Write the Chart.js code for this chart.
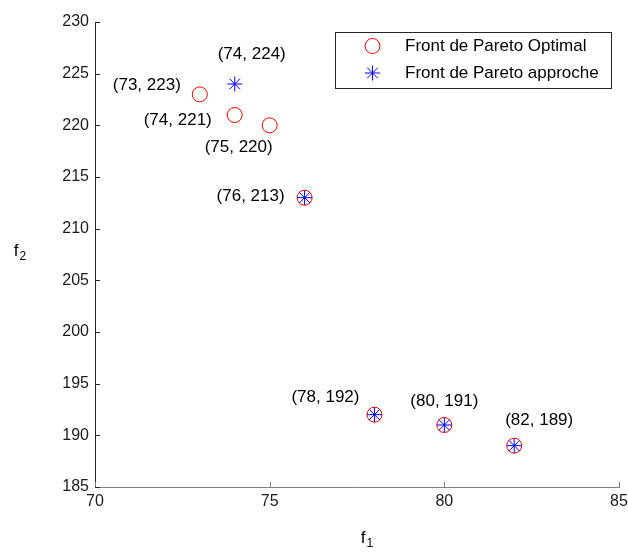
<!DOCTYPE html>
<html>
<head>
<meta charset="utf-8">
<script src="https://cdn.jsdelivr.net/npm/chart.js@4.4.1/dist/chart.umd.min.js"></script>
<style>
  html, body { margin: 0; padding: 0; background: #fff; }
  #wrap { width: 628px; height: 554px; }
</style>
</head>
<body>
<div id="wrap"><canvas id="paretoChart" width="628" height="554"></canvas></div>
<script>
// ---------------- data ----------------
const seriesNames = ['Front de Pareto Optimal', 'Front de Pareto approche'];

const f1Optimal = [73, 74, 75, 76, 78, 80, 82];
const f2Optimal = [223, 221, 220, 213, 192, 191, 189];

const f1Approche = [74, 76, 78, 80, 82];
const f2Approche = [224, 213, 192, 191, 189];

const xTicks = [70, 75, 80, 85];
const yTicks = [185, 190, 195, 200, 205, 210, 215, 220, 225, 230];

// points that carry a "(f1, f2)" text
const labelF1 = [74, 73, 74, 75, 76, 78, 80, 82];
const labelF2 = [224, 223, 221, 220, 213, 192, 191, 189];
// pixel shift of each text centre from its point
const labelShift = [[17, -30], [-53, -9], [-57, 5], [-31, 22], [-54, -1], [-49, -17], [0, -24], [25, -25]];

// ---------------- helpers ----------------
const FONT = '"Liberation Sans", Arial, Helvetica, sans-serif';
const RED = '#ff0000';
const BLUE = '#0000ff';

function toPoints(xs, ys) {
	return xs.map((x, i) => ({ x: x, y: ys[i] }));
}

function drawSubLabel(ctx, main, sub, cx, baseY) {
	ctx.font = '17px ' + FONT;
	const w1 = ctx.measureText(main).width;
	ctx.font = '12px ' + FONT;
	const w2 = ctx.measureText(sub).width;
	const left = cx - (w1 + w2 + 1) / 2;
	ctx.textAlign = 'left';
	ctx.textBaseline = 'alphabetic';
	ctx.font = '17px ' + FONT;
	ctx.fillText(main, left, baseY);
	ctx.font = '12px ' + FONT;
	ctx.fillText(sub, left + w1 + 1, baseY + 4);
}

function legendMarker(ctx, ds, x, y) {
	ctx.save();
	ctx.strokeStyle = ds.borderColor;
	ctx.fillStyle = 'rgba(0,0,0,0)';
	ctx.lineWidth = 1;
	Chart.helpers.drawPoint(ctx, { pointStyle: ds.pointStyle, radius: ds.pointRadius, borderWidth: 1 }, x, y);
	ctx.restore();
}

// inward ticks, axis titles, point texts and legend box
const matlabLook = {
	id: 'matlabLook',
	afterDraw(chart) {
		const ctx = chart.ctx;
		const xs = chart.scales.x;
		const ys = chart.scales.y;
		const area = chart.chartArea;
		ctx.save();

		// ticks inside the axes
		ctx.lineWidth = 1;
		ctx.strokeStyle = '#262626';
		yTicks.forEach(v => {
			const py = Math.round(ys.getPixelForValue(v)) + 0.5;
			ctx.beginPath();
			ctx.moveTo(area.left, py);
			ctx.lineTo(area.left + 5, py);
			ctx.stroke();
		});
		ctx.strokeStyle = '#808080';
		xTicks.forEach(v => {
			const px = Math.round(xs.getPixelForValue(v)) + 0.5;
			ctx.beginPath();
			ctx.moveTo(px, area.bottom);
			ctx.lineTo(px, area.bottom - 5);
			ctx.stroke();
		});

		// axis titles
		ctx.fillStyle = '#000';
		drawSubLabel(ctx, 'f', '1', 367, 543);
		drawSubLabel(ctx, 'f', '2', 20, 256);

		// point texts
		ctx.font = '17px ' + FONT;
		ctx.textAlign = 'center';
		ctx.textBaseline = 'middle';
		labelF1.forEach((v, i) => {
			const px = xs.getPixelForValue(v) + labelShift[i][0];
			const py = ys.getPixelForValue(labelF2[i]) + labelShift[i][1];
			ctx.fillText('(' + v + ', ' + labelF2[i] + ')', px, py);
		});

		// legend
		ctx.fillStyle = '#fff';
		ctx.fillRect(335.5, 32.5, 276, 56);
		ctx.strokeStyle = '#262626';
		ctx.strokeRect(335.5, 32.5, 276, 56);
		const rows = [46, 73];
		chart.data.datasets.forEach((ds, i) => {
			legendMarker(ctx, ds, 372.5, rows[i]);
			ctx.fillStyle = '#000';
			ctx.font = '17px ' + FONT;
			ctx.textAlign = 'left';
			ctx.textBaseline = 'middle';
			ctx.fillText(ds.label, 405, rows[i]);
		});
		ctx.restore();
	}
};

const config = {
	type: 'scatter',
	data: {
		datasets: [
			{
				label: seriesNames[0],
				data: toPoints(f1Optimal, f2Optimal),
				pointStyle: 'circle',
				pointRadius: 7.5,
				pointHoverRadius: 7.5,
				borderColor: RED,
				backgroundColor: 'rgba(0,0,0,0)',
				borderWidth: 1,
				order: 2
			},
			{
				label: seriesNames[1],
				data: toPoints(f1Approche, f2Approche),
				pointStyle: 'star',
				pointRadius: 7.5,
				pointHoverRadius: 7.5,
				borderColor: BLUE,
				backgroundColor: BLUE,
				borderWidth: 1,
				order: 1
			}
		]
	},
	options: {
		responsive: false,
		animation: false,
		devicePixelRatio: 1,
		layout: { padding: { left: 0, right: 9, top: 22, bottom: 0 } },
		plugins: {
			legend: { display: false },
			tooltip: { enabled: false }
		},
		scales: {
			x: {
				type: 'linear',
				min: 70,
				max: 85,
				afterBuildTicks: scale => { scale.ticks = xTicks.map(v => ({ value: v })); },
				afterFit: scale => {
					scale.height = 67;
					scale.paddingLeft = 0;
					scale.paddingRight = 0;
				},
				grid: { display: false, drawTicks: false },
				border: { display: true, color: '#808080', width: 1 },
				ticks: { padding: 5, color: '#1a1a1a', font: { family: FONT, size: 16 } }
			},
			y: {
				type: 'linear',
				min: 185,
				max: 230,
				afterBuildTicks: scale => { scale.ticks = yTicks.map(v => ({ value: v })); },
				afterFit: scale => {
					scale.width = 95;
					scale.paddingTop = 0;
					scale.paddingBottom = 0;
				},
				grid: { display: false, drawTicks: false },
				border: { display: true, color: '#262626', width: 1 },
				ticks: { padding: 6, color: '#1a1a1a', font: { family: FONT, size: 16 } }
			}
		}
	},
	plugins: [matlabLook]
};

const paretoChart = new Chart(document.getElementById('paretoChart').getContext('2d'), config);
</script>
</body>
</html>
